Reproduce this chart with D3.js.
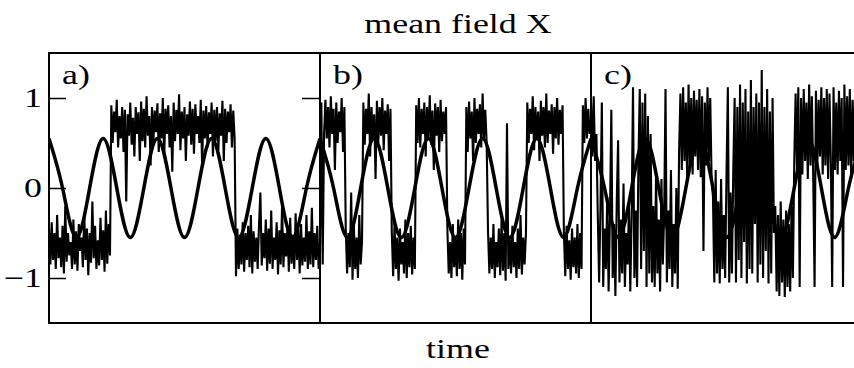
<!DOCTYPE html>
<html>
<head>
<meta charset="utf-8">
<script src="https://cdn.jsdelivr.net/npm/d3@7"></script>
<style>
  body { margin: 0; background: #fff; }
  text { font-family: "Liberation Serif", "Times New Roman", serif; fill: #000; }
</style>
</head>
<body>
<div class="chart"></div>
<script>
// panel names
var panels = ["a)", "b)", "c)"];
var yTicks = [-1, 0, 1];

// periodic forcing, read at quarter periods (5 periods per panel)
var forcing = [.55, 0, -.55, 0, .55, 0, -.55, 0, .55, 0, -.55, 0, .55, 0, -.55, 0, .55, 0, -.55, 0, .55];

// mean field X at 1/40 period steps
var traceA = [
  -.45,-.85,-.38,-.8,-.5,-.9,-.3,-.78,-.55,-.88,
  -.42,-.95,-.2,-.82,-.5,-.75,-.6,-.9,-.35,-.85,
  -.48,-.92,-.4,-.7,-.55,-.88,-.28,-.8,-.45,-.97,
  -.5,-.83,-.15,-.78,-.42,-.9,-.58,-.86,-.33,-.8,
  -.47,-.93,-.25,-.84,-.4,-.75,
  .92,.5,.85,.62,.98,.45,.8,.55,.9,.4,
  .87,-.15,.82,.58,.95,.48,.78,.35,.9,.6,
  .84,.3,.96,.52,.88,.45,1.02,.58,.8,.25,
  .9,.5,.86,.62,.94,.4,.83,.55,1.0,.35,
  .88,.6,.92,.45,.8,.18,.95,.52,.87,.6,
  1.04,.42,.85,.55,.9,.3,.82,.58,.96,.48,
  .88,.38,.93,.6,.8,.5,.98,.25,.86,.55,
  .91,.45,.84,.6,.95,.35,.87,.52,.9,.42,
  .83,.58,.97,.3,.88,.5,.85,.62,.93,.45,
  .86,.55,
  -.98,-.45,-.9,-.52,-.85,-.38,-.93,-.5,-.8,-.42,
  -.88,-.3,-.95,-.48,-.82,-.55,-.9,-.4,-.05,-.86,
  -.5,-.78,-.35,-.92,-.45,-.84,-.25,-.9,-.55,-.8,
  -.38,-.96,-.47,-.85,-.2,-.88,-.5,-.76,-.42,-.93,
  -.33,-.84,-.52,-.9,-.28,-.8,-.45,-.95,-.4,-.86,
  -.55,-.82,-.3,-.9,-.48,-.85,-.22,-.88,-.5,-.8,
  -.42,-.9,-.6
];
var traceB = [
  -.7,.95,-.85,.6,
  .98,.55,.9,.45,1.02,.6,.88,.2,.95,.5,.85,.62,1.0,.4,.9,
  -.45,-.95,-.5,-.88,-.05,-1.02,-.42,-.9,-.55,-1.0,-.3,-.85,-.6,
  .95,.48,.88,.6,1.05,.35,.9,.55,.82,.1,.97,.5,.9,.58,1.0,.42,.86,.6,.93,.3,.88,
  -.5,-.98,-.4,-.9,-.55,-1.03,-.45,-.85,-.6,-.95,-.35,-1.0,-.5,-.88,-.42,-.96,-.55,-.9,
  .92,.5,1.0,.45,.88,.6,.95,.35,.9,.55,1.03,.48,.86,.2,.94,.58,.9,.4,.98,.52,.85,.6,.9,
  -.45,-.95,-.6,-1.0,-.4,-.88,-.55,-.98,-.35,-.9,-.5,-1.02,-.45,-.85,
  .9,.4,.96,.55,.85,.3,1.0,.5,.88,.6,.93,.45,1.05,.55,.87,.5,
  -.48,-.95,-.55,-.9,-.4,-1.0,-.6,-.88,-.45,-.97,-.35,-.92,-.5,-1.03,.72,
  -.9,-.55,-.95,-.42,-.88,-.6,-1.0,-.45,-.9,-.3,-.96,-.55,-.85,-.5,
  .95,.5,.88,.6,1.02,.42,.9,.55,.85,.3,.97,.58,.9,.45,1.05,.5,.86,.6,.93,.38,
  .9,.55,1.0,.48,.87,.6,.92,
  -.5,-.98,-.42,-.9,-.58,-1.02,-.45,-.88,-.55,-.95,-.4,-1.0,-.5,-.9,
  .92,.5,1.0,.55,.88,.6,.75
];
var traceC = [
  .95,.35,1.02,.3,.6,
  -.3,-1.05,-.2,.95,-1.1,-.45,-.9,-.1,-1.15,-.3,.87,-1.0,-.4,-1.2,-.15,
  .53,-1.05,-.35,-.95,.05,-1.1,-.5,-.85,-.2,-1.15,-.3,1.12,-1.0,-.25,-1.1,.3,
  1.1,-.9,.95,-.7,1.05,-1.1,.8,-.95,.6,-1.05,
  -.2,-1.1,.15,-.95,-.35,-1.15,.1,-.85,-.3,1.1,-1.05,-.25,-.9,.2,-1.1,-.4,-.95,0,-1.12,.4,
  1.05,.2,1.12,.3,.95,.1,1.15,.25,1.0,.15,1.08,.35,.98,.2,1.1,.12,1.02,-.7,.95,.25,1.12,.3,1.0,.1,
  -.1,-1.05,.2,-.95,-.15,-1.06,.1,-.9,-.3,-1.0,.15,1.12,-1.05,-.05,-.95,.2,
  1.0,-1.05,.9,-.8,1.15,-1.0,.95,-.6,1.1,-1.06,.85,-.9,1.2,-.95,.9,-.4,1.05,-1.05,.95,-.85,
  1.31,-1.0,.9,-.7,1.1,-1.06,.85,-.95,1.0,-.5,
  -.2,-1.15,-.3,-1.2,-.15,-1.05,-.35,-1.21,-.25,-1.1,-.4,-1.15,-.2,-1.0,.3,
  1.05,.2,1.12,-1.1,1.0,.15,1.1,.3,.95,.1,1.15,.25,1.02,.12,-1.1,1.08,.2,.98,.35,1.12,
  .15,1.0,.25,1.1,.1,1.05,.3,-1.1,1.12,.2,.95,.15,1.08,.3,1.0,-1.1,1.15,.2,1.02,.25,
  1.1,.1,.98,.3,1.12,.2,1.05,.15,1.0,.3
];
var traces = [traceA, traceB, traceC];

draw();

function draw() {
  var width = 854, height = 368;
  var plotLeft = 49, plotTop = 53, plotBottom = 323, panelW = 271;
  var periods = 5;
  var stretch = 1.33; // the type in the figure is set wide

  var svg = d3.select(".chart").append("svg")
    .attr("width", width).attr("height", height);

  var y = d3.scaleLinear().domain([-1.5, 1.5]).range([plotBottom, plotTop]);

  function label(x, yy, str, anchor) {
    svg.append("text")
      .attr("transform", "translate(" + x + "," + yy + ") scale(" + stretch + ",1)")
      .attr("text-anchor", anchor)
      .style("font-size", "27px")
      .text(str);
  }

  panels.forEach(function (name, p) {
    var x0 = plotLeft + p * panelW;
    var x = d3.scaleLinear().domain([0, periods]).range([x0, x0 + panelW]);

    svg.append("clipPath").attr("id", "clip" + p)
      .append("rect").attr("x", x0).attr("y", plotTop)
      .attr("width", panelW).attr("height", plotBottom - plotTop);

    var g = svg.append("g").attr("clip-path", "url(#clip" + p + ")");

    // forcing
    var fline = d3.line()
      .x(function (d, i) { return x(i / (forcing.length - 1) * periods); })
      .y(function (d) { return y(d); })
      .curve(d3.curveNatural);
    g.append("path").datum(forcing)
      .attr("fill", "none").attr("stroke", "#000")
      .attr("stroke-width", 3.5)
      .attr("d", fline);

    // noisy mean field
    var tr = traces[p];
    var line = d3.line()
      .x(function (d, i) { return x(i / (tr.length - 1) * periods); })
      .y(function (d) { return y(d); });
    g.append("path").datum(tr)
      .attr("fill", "none").attr("stroke", "#000")
      .attr("stroke-width", 2.1)
      .attr("d", line);

    label(x0 + 13, 84, name, "start");
  });

  // frame and panel dividers
  svg.append("rect")
    .attr("x", plotLeft).attr("y", plotTop)
    .attr("width", panelW * 3).attr("height", plotBottom - plotTop)
    .attr("fill", "none").attr("stroke", "#000").attr("stroke-width", 2);
  [1, 2].forEach(function (k) {
    svg.append("line")
      .attr("x1", plotLeft + k * panelW).attr("x2", plotLeft + k * panelW)
      .attr("y1", plotTop).attr("y2", plotBottom)
      .attr("stroke", "#000").attr("stroke-width", 2);
  });

  // inward ticks on panel a
  var axL = svg.append("g").attr("transform", "translate(" + plotLeft + ",0)")
    .call(d3.axisLeft(y).tickValues(yTicks).tickSize(-17).tickFormat(""));
  var axR = svg.append("g").attr("transform", "translate(" + (plotLeft + panelW) + ",0)")
    .call(d3.axisRight(y).tickValues(yTicks).tickSize(-18).tickFormat(""));
  [axL, axR].forEach(function (ax) {
    ax.select(".domain").remove();
    ax.selectAll("line").attr("stroke", "#000").attr("stroke-width", 1.5);
  });

  yTicks.forEach(function (v) {
    label(42, y(v) + 9, d3.format("d")(v), "end");
  });

  label(458, 33, "mean field X", "middle");
  label(458, 358, "time", "middle");
}
</script>
</body>
</html>
